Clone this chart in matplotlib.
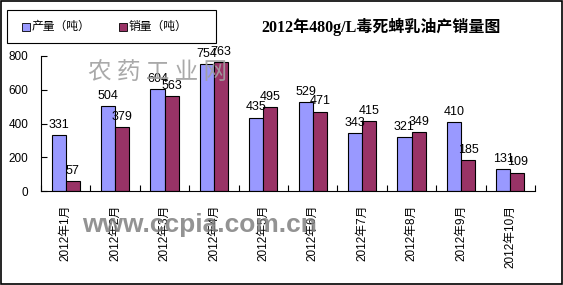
import matplotlib
matplotlib.use("Agg")
import matplotlib.pyplot as plt
from matplotlib.patches import Rectangle
import numpy as np

plt.rcParams['font.family'] = ['Liberation Sans', 'Noto Sans CJK SC']

categories = ["2012年1月", "2012年2月", "2012年3月", "2012年4月", "2012年5月",
              "2012年6月", "2012年7月", "2012年8月", "2012年9月", "2012年10月"]
production = [331, 504, 604, 754, 435, 529, 343, 321, 410, 131]
sales = [57, 379, 563, 763, 495, 471, 415, 349, 185, 109]
series_names = ["产量（吨）", "销量（吨）"]
title = "2012年480g/L毒死蜱乳油产销量图"
yticks = [0, 200, 400, 600, 800]

c_blue = "#9999FF"
c_red = "#993366"

W, H = 563, 285
fig = plt.figure(figsize=(W / 100, H / 100), dpi=100)
fig.patch.set_facecolor("white")

def fx(px):
    return px / W

def fy(py):
    return 1 - py / H

ax = fig.add_axes([fx(41), fy(191), fx(535) - fx(41), fy(56) - fy(191)])
x = np.arange(len(categories))
w = 0.285
b1 = ax.bar(x - w / 2, production, w, color=c_blue, edgecolor="black", linewidth=0.8)
b2 = ax.bar(x + w / 2, sales, w, color=c_red, edgecolor="black", linewidth=0.8)

for bars, vals in ((b1, production), (b2, sales)):
    for r, v in zip(bars, vals):
        ax.annotate(str(v), (r.get_x() + r.get_width() / 2, v), xytext=(0, 3),
                    textcoords="offset points", ha="center", va="bottom",
                    fontsize=9, color="black")

ax.set_xlim(-0.5, len(categories) - 0.5)
ax.set_ylim(0, 800)
ax.set_yticks(yticks)
ax.set_yticklabels([str(t) for t in yticks], fontsize=8.5)
ax.set_xticks(x)
ax.set_xticklabels(categories, rotation=90, fontsize=8.5, va="top", ha="center")
ax.set_xticks(np.arange(-0.5, len(categories), 1.0), minor=True)
ax.tick_params(axis="x", which="major", length=0, pad=10)
ax.tick_params(axis="x", which="minor", length=4, direction="in", width=0.8)
ax.tick_params(axis="y", length=4, direction="in", width=0.8, pad=9)
for s in ("top", "right"):
    ax.spines[s].set_visible(False)
for s in ("left", "bottom"):
    ax.spines[s].set_linewidth(0.8)

# Title
fig.text(fx(381), fy(27), title, ha="center", va="center", fontsize=11.5,
         fontweight="bold", family=["Liberation Serif", "Noto Sans CJK SC"])

# Legend box
fig.patches.append(Rectangle((fx(6.5), fy(43)), fx(216) - fx(6.5), fy(10) - fy(43),
                             transform=fig.transFigure, fill=False,
                             edgecolor="black", linewidth=0.8))
for sx, col, name in ((22, c_blue, series_names[0]), (119, c_red, series_names[1])):
    fig.patches.append(Rectangle((fx(sx), fy(30.5)), fx(7.5), 7.5 / H,
                                 transform=fig.transFigure, facecolor=col,
                                 edgecolor="black", linewidth=0.6))
    fig.text(fx(sx + 10), fy(27), name, ha="left", va="center", fontsize=8.5)

# Watermarks
fig.text(fx(158), fy(72), "农 药 工 业 网", ha="center", va="center", fontsize=17,
         color="#a0a0a0", family=["Noto Sans CJK SC"], alpha=0.9)
fig.text(fx(200), fy(225), "www.ccpia.com.cn", ha="center", va="center", fontsize=19,
         color="#808080", fontweight="bold", family=["Liberation Sans"], alpha=0.85)

# Outer frame
fig.patches.append(Rectangle((0.001, 0.002), 0.997, 0.995, transform=fig.transFigure,
                             fill=False, edgecolor="black", linewidth=1.2))

fig.savefig("out.png", dpi=100)
